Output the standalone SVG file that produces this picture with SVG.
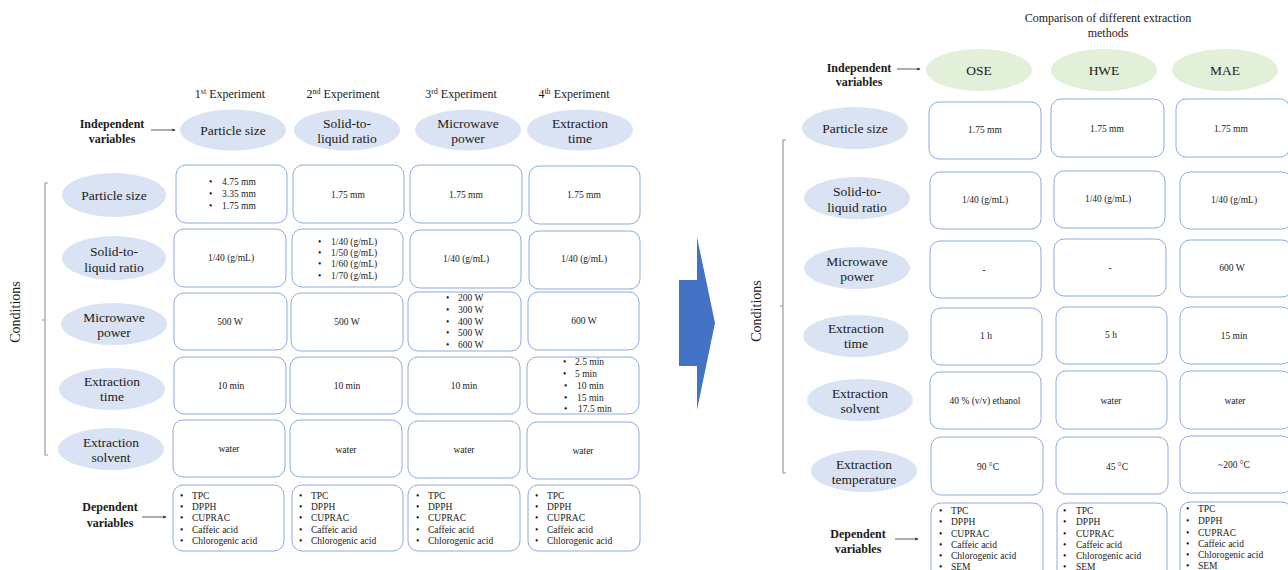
<svg xmlns="http://www.w3.org/2000/svg" width="1288" height="570" viewBox="0 0 1288 570">
<defs>
<style>
text{font-family:"Liberation Serif","Times New Roman",serif;fill:#1a1a1a}
.lbl{font-size:13.5px;text-anchor:middle}
.hdr{font-size:12px;text-anchor:middle}
.bold{font-size:12px;font-weight:bold;text-anchor:middle}
.cell{font-size:9.5px;text-anchor:middle}
.li{font-size:9.5px}
.cond{font-size:14px;text-anchor:middle}
.ell{fill:#dae3f3}
.gell{fill:#e2f0d9}
.box{fill:#ffffff;stroke:#8faadc;stroke-width:1}
.brk{fill:none;stroke:#9a9a9a;stroke-width:1.2}
.arr{fill:none;stroke:#333;stroke-width:0.8;marker-end:url(#ah)}
</style>
<marker id="ah" viewBox="0 0 6 6" refX="5" refY="3" markerWidth="4" markerHeight="4" orient="auto"><path d="M0,0 L6,3 L0,6 z" fill="#333"/></marker>
</defs>
<rect width="1288" height="570" fill="#ffffff"/>

<!-- ================= LEFT PANEL ================= -->
<g id="left-headers">
<text class="hdr" x="230" y="98">1<tspan font-size="8" dy="-4">st</tspan><tspan dy="4"> Experiment</tspan></text>
<text class="hdr" x="343" y="98">2<tspan font-size="8" dy="-4">nd</tspan><tspan dy="4"> Experiment</tspan></text>
<text class="hdr" x="461" y="98">3<tspan font-size="8" dy="-4">rd</tspan><tspan dy="4"> Experiment</tspan></text>
<text class="hdr" x="574" y="98">4<tspan font-size="8" dy="-4">th</tspan><tspan dy="4"> Experiment</tspan></text>
</g>

<g id="left-independent-label">
<text class="bold" x="112" y="128">Independent</text>
<text class="bold" x="112" y="143">variables</text>
</g>

<g id="left-iv-particle"><ellipse class="ell" cx="233" cy="130" rx="53" ry="20.5"/><text class="lbl" x="233" y="135">Particle size</text></g>
<g id="left-iv-solid"><ellipse class="ell" cx="347" cy="130" rx="53" ry="20.5"/><text class="lbl" x="347" y="127.5">Solid-to-</text><text class="lbl" x="347" y="143">liquid ratio</text></g>
<g id="left-iv-microwave"><ellipse class="ell" cx="468" cy="130" rx="53" ry="20.5"/><text class="lbl" x="468" y="127.5">Microwave</text><text class="lbl" x="468" y="143">power</text></g>
<g id="left-iv-time"><ellipse class="ell" cx="580" cy="130" rx="53" ry="20.5"/><text class="lbl" x="580" y="127.5">Extraction</text><text class="lbl" x="580" y="143">time</text></g>

<g id="left-cond-label">
<text class="cond" transform="translate(20,312) rotate(-90)">Conditions</text>
</g>

<g id="left-row-particle"><ellipse class="ell" cx="114" cy="195" rx="52" ry="22"/><text class="lbl" x="114" y="199.5">Particle size</text></g>
<g id="left-row-solid"><ellipse class="ell" cx="114" cy="258" rx="52" ry="22"/><text class="lbl" x="114" y="256">Solid-to-</text><text class="lbl" x="114" y="271.5">liquid ratio</text></g>
<g id="left-row-microwave"><ellipse class="ell" cx="114" cy="324" rx="53" ry="21"/><text class="lbl" x="114" y="321.5">Microwave</text><text class="lbl" x="114" y="337">power</text></g>
<g id="left-row-time"><ellipse class="ell" cx="112" cy="389" rx="53" ry="21"/><text class="lbl" x="112" y="385.5">Extraction</text><text class="lbl" x="112" y="401">time</text></g>
<g id="left-row-solvent"><ellipse class="ell" cx="111" cy="449" rx="53" ry="21"/><text class="lbl" x="111" y="446.5">Extraction</text><text class="lbl" x="111" y="462">solvent</text></g>

<!-- row 1 -->
<g id="L-r1c1"><rect class="box" x="176" y="165" width="111" height="58" rx="10"/>
<text class="li" x="209" y="185">•</text><text class="li" x="222" y="185">4.75 mm</text>
<text class="li" x="209" y="197">•</text><text class="li" x="222" y="197">3.35 mm</text>
<text class="li" x="209" y="209">•</text><text class="li" x="222" y="209">1.75 mm</text></g>
<g id="L-r1c2"><rect class="box" x="293" y="165" width="111" height="58" rx="10"/><text class="cell" x="348" y="198">1.75 mm</text></g>
<g id="L-r1c3"><rect class="box" x="410" y="165" width="112" height="58" rx="10"/><text class="cell" x="466" y="198">1.75 mm</text></g>
<g id="L-r1c4"><rect class="box" x="529" y="166" width="111" height="58" rx="10"/><text class="cell" x="584" y="198">1.75 mm</text></g>
<!-- row 2 -->
<g id="L-r2c1"><rect class="box" x="174" y="229" width="112" height="58" rx="10"/><text class="cell" x="231" y="261">1/40 (g/mL)</text></g>
<g id="L-r2c2"><rect class="box" x="292" y="229" width="111" height="58" rx="10"/>
<text class="li" x="318" y="245">•</text><text class="li" x="331" y="245">1/40 (g/mL)</text>
<text class="li" x="318" y="256">•</text><text class="li" x="331" y="256">1/50 (g/mL)</text>
<text class="li" x="318" y="267">•</text><text class="li" x="331" y="267">1/60 (g/mL)</text>
<text class="li" x="318" y="279">•</text><text class="li" x="331" y="279">1/70 (g/mL)</text></g>
<g id="L-r2c3"><rect class="box" x="410" y="230" width="111" height="58" rx="10"/><text class="cell" x="466" y="262">1/40 (g/mL)</text></g>
<g id="L-r2c4"><rect class="box" x="529" y="231" width="111" height="58" rx="10"/><text class="cell" x="584" y="262">1/40 (g/mL)</text></g>
<!-- row 3 -->
<g id="L-r3c1"><rect class="box" x="174" y="293" width="113" height="57" rx="10"/><text class="cell" x="230" y="325">500 W</text></g>
<g id="L-r3c2"><rect class="box" x="291" y="293" width="112" height="58" rx="10"/><text class="cell" x="347" y="325">500 W</text></g>
<g id="L-r3c3"><rect class="box" x="408" y="292" width="113" height="59" rx="10"/>
<text class="li" x="446" y="301">•</text><text class="li" x="458" y="301">200 W</text>
<text class="li" x="446" y="313">•</text><text class="li" x="458" y="313">300 W</text>
<text class="li" x="446" y="325">•</text><text class="li" x="458" y="325">400 W</text>
<text class="li" x="446" y="336">•</text><text class="li" x="458" y="336">500 W</text>
<text class="li" x="446" y="348">•</text><text class="li" x="458" y="348">600 W</text></g>
<g id="L-r3c4"><rect class="box" x="528" y="292" width="111" height="58" rx="10"/><text class="cell" x="584" y="324">600 W</text></g>
<!-- row 4 -->
<g id="L-r4c1"><rect class="box" x="174" y="357" width="112" height="57" rx="10"/><text class="cell" x="231" y="389">10 min</text></g>
<g id="L-r4c2"><rect class="box" x="290" y="357" width="112" height="57" rx="10"/><text class="cell" x="347" y="389">10 min</text></g>
<g id="L-r4c3"><rect class="box" x="408" y="357" width="112" height="57" rx="10"/><text class="cell" x="464" y="389">10 min</text></g>
<g id="L-r4c4"><rect class="box" x="527" y="357" width="112" height="57" rx="10"/>
<text class="li" x="563" y="365">•</text><text class="li" x="575" y="365">2.5 min</text>
<text class="li" x="563" y="377">•</text><text class="li" x="575" y="377">5 min</text>
<text class="li" x="564" y="389">•</text><text class="li" x="577" y="389">10 min</text>
<text class="li" x="564" y="401">•</text><text class="li" x="577" y="401">15 min</text>
<text class="li" x="564" y="412">•</text><text class="li" x="578" y="412">17.5 min</text></g>
<!-- row 5 -->
<g id="L-r5c1"><rect class="box" x="173" y="420" width="112" height="57" rx="10"/><text class="cell" x="229" y="452">water</text></g>
<g id="L-r5c2"><rect class="box" x="290" y="420" width="112" height="57" rx="10"/><text class="cell" x="346" y="453">water</text></g>
<g id="L-r5c3"><rect class="box" x="408" y="421" width="112" height="57" rx="10"/><text class="cell" x="464" y="453">water</text></g>
<g id="L-r5c4"><rect class="box" x="527" y="422" width="112" height="57" rx="10"/><text class="cell" x="583" y="454">water</text></g>

<g id="left-dependent-label">
<text class="bold" x="110" y="511">Dependent</text>
<text class="bold" x="110" y="527">variables</text>
</g>

<!-- dependent boxes left -->
<g id="L-dep1"><rect class="box" x="173" y="485" width="111" height="66" rx="10"/>
<text class="li" x="180" y="499">•</text><text class="li" x="192" y="499">TPC</text>
<text class="li" x="180" y="510">•</text><text class="li" x="192" y="510">DPPH</text>
<text class="li" x="180" y="521">•</text><text class="li" x="192" y="521">CUPRAC</text>
<text class="li" x="180" y="533">•</text><text class="li" x="192" y="533">Caffeic acid</text>
<text class="li" x="180" y="544">•</text><text class="li" x="192" y="544">Chlorogenic acid</text></g>
<g id="L-dep2"><rect class="box" x="292" y="485" width="111" height="66" rx="10"/>
<text class="li" x="299" y="499">•</text><text class="li" x="311" y="499">TPC</text>
<text class="li" x="299" y="510">•</text><text class="li" x="311" y="510">DPPH</text>
<text class="li" x="299" y="521">•</text><text class="li" x="311" y="521">CUPRAC</text>
<text class="li" x="299" y="533">•</text><text class="li" x="311" y="533">Caffeic acid</text>
<text class="li" x="299" y="544">•</text><text class="li" x="311" y="544">Chlorogenic acid</text></g>
<g id="L-dep3"><rect class="box" x="408" y="485" width="112" height="66" rx="10"/>
<text class="li" x="416" y="499">•</text><text class="li" x="428" y="499">TPC</text>
<text class="li" x="416" y="510">•</text><text class="li" x="428" y="510">DPPH</text>
<text class="li" x="416" y="521">•</text><text class="li" x="428" y="521">CUPRAC</text>
<text class="li" x="416" y="533">•</text><text class="li" x="428" y="533">Caffeic acid</text>
<text class="li" x="416" y="544">•</text><text class="li" x="428" y="544">Chlorogenic acid</text></g>
<g id="L-dep4"><rect class="box" x="528" y="485" width="112" height="66" rx="10"/>
<text class="li" x="535" y="499">•</text><text class="li" x="547" y="499">TPC</text>
<text class="li" x="535" y="510">•</text><text class="li" x="547" y="510">DPPH</text>
<text class="li" x="535" y="521">•</text><text class="li" x="547" y="521">CUPRAC</text>
<text class="li" x="535" y="533">•</text><text class="li" x="547" y="533">Caffeic acid</text>
<text class="li" x="535" y="544">•</text><text class="li" x="547" y="544">Chlorogenic acid</text></g>

<!-- big arrow -->
<g id="big-arrow"><path d="M679,280 L697,280 L697,237 L715,323 L697,410 L697,366 L679,366 Z" fill="#4472c4"/></g>

<!-- ================= RIGHT PANEL ================= -->
<g id="right-title">
<text class="hdr" x="1108" y="22">Comparison of different extraction</text>
<text class="hdr" x="1108" y="37">methods</text>
</g>
<g id="right-independent-label">
<text class="bold" x="859" y="72">Independent</text>
<text class="bold" x="859" y="86">variables</text>
</g>
<g id="R-iv-ose"><ellipse class="gell" cx="979" cy="70" rx="53" ry="21"/><text class="lbl" x="979" y="75">OSE</text></g>
<g id="R-iv-hwe"><ellipse class="gell" cx="1104" cy="70" rx="53" ry="21"/><text class="lbl" x="1104" y="75">HWE</text></g>
<g id="R-iv-mae"><ellipse class="gell" cx="1225" cy="70" rx="53" ry="21"/><text class="lbl" x="1225" y="75">MAE</text></g>

<g id="right-cond-label">
<text class="cond" transform="translate(761,311) rotate(-90)">Conditions</text>
</g>

<g id="R-row-particle"><ellipse class="ell" cx="855" cy="128" rx="53" ry="21"/><text class="lbl" x="855" y="132.5">Particle size</text></g>
<g id="R-row-solid"><ellipse class="ell" cx="857" cy="198" rx="53" ry="21"/><text class="lbl" x="857" y="196">Solid-to-</text><text class="lbl" x="857" y="211.5">liquid ratio</text></g>
<g id="R-row-microwave"><ellipse class="ell" cx="857" cy="268" rx="53" ry="21"/><text class="lbl" x="857" y="265.5">Microwave</text><text class="lbl" x="857" y="281">power</text></g>
<g id="R-row-time"><ellipse class="ell" cx="856" cy="336" rx="53" ry="21"/><text class="lbl" x="856" y="332.5">Extraction</text><text class="lbl" x="856" y="348">time</text></g>
<g id="R-row-solvent"><ellipse class="ell" cx="860" cy="400" rx="53" ry="21"/><text class="lbl" x="860" y="397.5">Extraction</text><text class="lbl" x="860" y="413">solvent</text></g>
<g id="R-row-temp"><ellipse class="ell" cx="864" cy="471" rx="53" ry="21"/><text class="lbl" x="864" y="468.5">Extraction</text><text class="lbl" x="864" y="484">temperature</text></g>

<!-- right grid -->
<g id="R-r1c1"><rect class="box" x="929" y="102" width="112" height="57" rx="10"/><text class="cell" x="985" y="133">1.75 mm</text></g>
<g id="R-r1c2"><rect class="box" x="1051" y="99" width="113" height="58" rx="10"/><text class="cell" x="1107" y="132">1.75 mm</text></g>
<g id="R-r1c3"><rect class="box" x="1176" y="99" width="114" height="58" rx="10"/><text class="cell" x="1231" y="132">1.75 mm</text></g>

<g id="R-r2c1"><rect class="box" x="930" y="172" width="111" height="57" rx="10"/><text class="cell" x="985" y="203">1/40 (g/mL)</text></g>
<g id="R-r2c2"><rect class="box" x="1054" y="171" width="111" height="57" rx="10"/><text class="cell" x="1108" y="202">1/40 (g/mL)</text></g>
<g id="R-r2c3"><rect class="box" x="1180" y="172" width="112" height="57" rx="10"/><text class="cell" x="1234" y="203">1/40 (g/mL)</text></g>

<g id="R-r3c1"><rect class="box" x="930" y="241" width="111" height="57" rx="10"/><text class="cell" x="984" y="273">-</text></g>
<g id="R-r3c2"><rect class="box" x="1054" y="239" width="112" height="57" rx="10"/><text class="cell" x="1110" y="271">-</text></g>
<g id="R-r3c3"><rect class="box" x="1180" y="240" width="112" height="57" rx="10"/><text class="cell" x="1232" y="271">600 W</text></g>

<g id="R-r4c1"><rect class="box" x="931" y="308" width="111" height="57" rx="10"/><text class="cell" x="986" y="339">1 h</text></g>
<g id="R-r4c2"><rect class="box" x="1056" y="307" width="111" height="57" rx="10"/><text class="cell" x="1111" y="338">5 h</text></g>
<g id="R-r4c3"><rect class="box" x="1180" y="307" width="112" height="57" rx="10"/><text class="cell" x="1234" y="339">15 min</text></g>

<g id="R-r5c1"><rect class="box" x="930" y="372" width="111" height="57" rx="10"/><text class="cell" x="985" y="404">40 % (v/v)  ethanol</text></g>
<g id="R-r5c2"><rect class="box" x="1056" y="371" width="111" height="58" rx="10"/><text class="cell" x="1111" y="404">water</text></g>
<g id="R-r5c3"><rect class="box" x="1180" y="371" width="112" height="58" rx="10"/><text class="cell" x="1235" y="404">water</text></g>

<g id="R-r6c1"><rect class="box" x="931" y="437" width="112" height="58" rx="10"/><text class="cell" x="988" y="470">90 °C</text></g>
<g id="R-r6c2"><rect class="box" x="1056" y="437" width="112" height="57" rx="10"/><text class="cell" x="1117" y="470">45 °C</text></g>
<g id="R-r6c3"><rect class="box" x="1180" y="436" width="112" height="57" rx="10"/><text class="cell" x="1234" y="468">~200 °C</text></g>

<g id="right-dependent-label">
<text class="bold" x="858" y="538">Dependent</text>
<text class="bold" x="858" y="553">variables</text>
</g>

<g id="R-dep1"><rect class="box" x="931" y="503" width="112" height="80" rx="10"/>
<text class="li" x="939" y="514">•</text><text class="li" x="951" y="514">TPC</text>
<text class="li" x="939" y="525">•</text><text class="li" x="951" y="525">DPPH</text>
<text class="li" x="939" y="537">•</text><text class="li" x="951" y="537">CUPRAC</text>
<text class="li" x="939" y="548">•</text><text class="li" x="951" y="548">Caffeic acid</text>
<text class="li" x="939" y="559">•</text><text class="li" x="951" y="559">Chlorogenic acid</text>
<text class="li" x="939" y="570">•</text><text class="li" x="951" y="570">SEM</text></g>
<g id="R-dep2"><rect class="box" x="1057" y="503" width="110" height="80" rx="10"/>
<text class="li" x="1063" y="514">•</text><text class="li" x="1076" y="514">TPC</text>
<text class="li" x="1063" y="525">•</text><text class="li" x="1076" y="525">DPPH</text>
<text class="li" x="1063" y="537">•</text><text class="li" x="1076" y="537">CUPRAC</text>
<text class="li" x="1063" y="548">•</text><text class="li" x="1076" y="548">Caffeic acid</text>
<text class="li" x="1063" y="559">•</text><text class="li" x="1076" y="559">Chlorogenic acid</text>
<text class="li" x="1063" y="570">•</text><text class="li" x="1076" y="570">SEM</text></g>
<g id="R-dep3"><rect class="box" x="1180" y="502" width="112" height="80" rx="10"/>
<text class="li" x="1186" y="512">•</text><text class="li" x="1198" y="512">TPC</text>
<text class="li" x="1186" y="524">•</text><text class="li" x="1198" y="524">DPPH</text>
<text class="li" x="1186" y="536">•</text><text class="li" x="1198" y="536">CUPRAC</text>
<text class="li" x="1186" y="547">•</text><text class="li" x="1198" y="547">Caffeic acid</text>
<text class="li" x="1186" y="558">•</text><text class="li" x="1198" y="558">Chlorogenic acid</text>
<text class="li" x="1186" y="569">•</text><text class="li" x="1198" y="569">SEM</text></g>

<!-- connectors -->
<g id="connectors">
<line class="arr" x1="151" y1="130" x2="175" y2="130"/>
<line class="arr" x1="142" y1="517" x2="166" y2="517"/>
<line class="arr" x1="897" y1="69" x2="920" y2="69"/>
<line class="arr" x1="895" y1="539" x2="918" y2="539"/>
<path class="brk" d="M48,183 L45,183 L45,455 L48,455 M45,320 L42,320"/>
<path class="brk" d="M786,140 L783,140 L783,473 L786,473 M783,306 L780,306"/>
</g>
</svg>
